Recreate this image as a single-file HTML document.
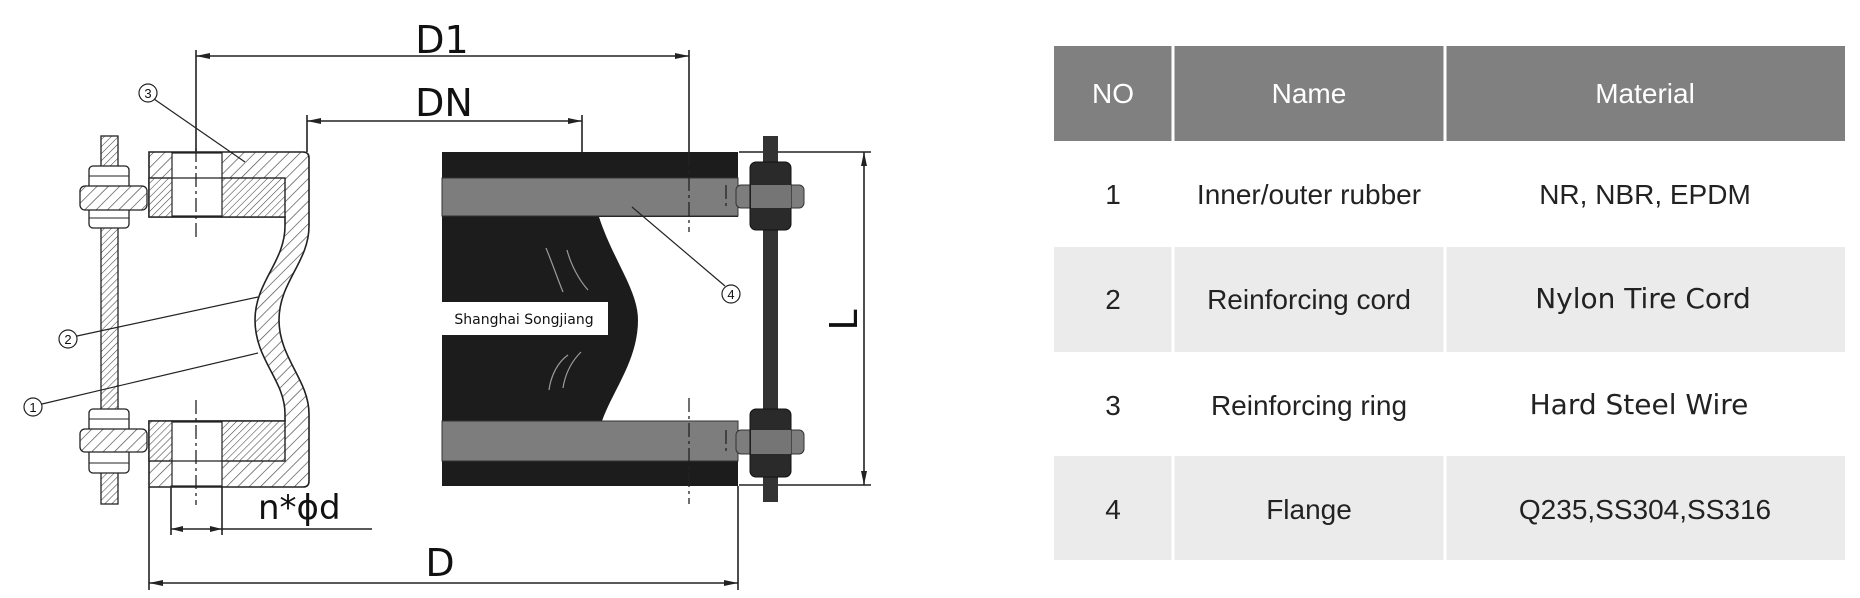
<!DOCTYPE html>
<html><head><meta charset="utf-8"><style>
html,body{margin:0;padding:0;background:#fff;}
svg{display:block;}
</style></head><body>
<svg width="1860" height="598" viewBox="0 0 1860 598" xmlns="http://www.w3.org/2000/svg" font-family="Liberation Sans, sans-serif">
<defs>
<pattern id="h" patternUnits="userSpaceOnUse" width="8" height="8" patternTransform="rotate(45)">
<rect width="8" height="8" fill="#fff"/><line x1="0" y1="0" x2="0" y2="8" stroke="#444" stroke-width="1.3"/></pattern>
<pattern id="h2" patternUnits="userSpaceOnUse" width="5" height="5" patternTransform="rotate(45)">
<rect width="5" height="5" fill="#fff"/><line x1="0" y1="0" x2="0" y2="5" stroke="#444" stroke-width="1.1"/></pattern>
<marker id="a" markerWidth="14" markerHeight="8" refX="14" refY="4" orient="auto" markerUnits="userSpaceOnUse"><path d="M0,1 L14,4 L0,7 Z" fill="#222"/></marker>
<marker id="b" markerWidth="14" markerHeight="8" refX="0" refY="4" orient="auto" markerUnits="userSpaceOnUse"><path d="M14,1 L0,4 L14,7 Z" fill="#222"/></marker>
</defs>

<!-- dimensions -->
<g stroke="#222" stroke-width="1.6" fill="none">
<line x1="196" y1="56" x2="689" y2="56" marker-start="url(#b)" marker-end="url(#a)"/>
<line x1="307" y1="121" x2="582" y2="121" marker-start="url(#b)" marker-end="url(#a)"/>
<line x1="196" y1="50" x2="196" y2="152"/>
<line x1="689" y1="50" x2="689" y2="152"/>
<line x1="307" y1="115" x2="307" y2="152"/>
<line x1="582" y1="115" x2="582" y2="152"/>
<line x1="149" y1="583" x2="738" y2="583" marker-start="url(#b)" marker-end="url(#a)"/>
<line x1="149" y1="487" x2="149" y2="590"/>
<line x1="738" y1="486" x2="738" y2="590"/>
<line x1="864" y1="152" x2="864" y2="485" marker-start="url(#b)" marker-end="url(#a)"/>
<line x1="739" y1="152" x2="871" y2="152"/>
<line x1="739" y1="485" x2="871" y2="485"/>
<line x1="171" y1="529" x2="372" y2="529"/>
<line x1="171" y1="487" x2="171" y2="535"/>
<line x1="222" y1="487" x2="222" y2="535"/>
</g>
<path d="M171,529 l12,-3 v6z M222,529 l-12,-3 v6z" fill="#222"/>
<text x="442" y="53" font-family="DejaVu Sans, sans-serif" font-size="38" text-anchor="middle" fill="#111">D1</text>
<text x="444" y="116" font-family="DejaVu Sans, sans-serif" font-size="38" text-anchor="middle" fill="#111">DN</text>
<text x="440" y="576" font-family="DejaVu Sans, sans-serif" font-size="38" text-anchor="middle" fill="#111">D</text>
<text x="258" y="519" font-family="DejaVu Sans, sans-serif" font-size="34" fill="#111">n*ϕd</text>
<text x="0" y="0" font-family="DejaVu Sans, sans-serif" font-size="38" fill="#111" transform="translate(857,320) rotate(-90)" text-anchor="middle">L</text>

<!-- left flange section -->
<path d="M149,152 H303 Q309,152 309,158 V226 C309,262 279,282 279,320 C279,358 309,380 309,414 V481 Q309,487 303,487 H149 V421 H285 V414 C285,380 255,360 255,320 C255,282 285,262 285,226 V217 H149 Z" fill="url(#h)" stroke="#222" stroke-width="1.6"/>
<rect x="149" y="178" width="136" height="39" fill="url(#h2)" stroke="#222" stroke-width="1.4"/>
<rect x="149" y="421" width="136" height="40" fill="url(#h2)" stroke="#222" stroke-width="1.4"/>
<rect x="172" y="153" width="50" height="63" fill="#fff" stroke="#222" stroke-width="1.2"/>
<rect x="172" y="422" width="50" height="64" fill="#fff" stroke="#222" stroke-width="1.2"/>
<line x1="172" y1="178" x2="222" y2="178" stroke="#222" stroke-width="1.2"/>
<line x1="172" y1="461" x2="222" y2="461" stroke="#222" stroke-width="1.2"/>
<g stroke="#222" stroke-width="1.3" stroke-dasharray="14,4,3,4">
<line x1="196" y1="148" x2="196" y2="240"/>
<line x1="196" y1="400" x2="196" y2="505"/>
</g>

<!-- left bolt -->
<rect x="101" y="136" width="17" height="368" fill="url(#h2)" stroke="#222" stroke-width="1.3"/>
<g fill="#fff" stroke="#222" stroke-width="1.3">
<rect x="89" y="166" width="40" height="62" rx="4"/>
<rect x="89" y="409" width="40" height="64" rx="4"/>
</g>
<g stroke="#222" stroke-width="1" fill="none">
<line x1="89" y1="176" x2="129" y2="176"/><line x1="89" y1="218" x2="129" y2="218"/>
<line x1="89" y1="419" x2="129" y2="419"/><line x1="89" y1="463" x2="129" y2="463"/>
</g>
<rect x="80" y="186" width="67" height="24" rx="5" fill="url(#h)" stroke="#222" stroke-width="1.3"/>
<rect x="80" y="429" width="67" height="23" rx="5" fill="url(#h)" stroke="#222" stroke-width="1.3"/>

<!-- right side rubber -->
<g transform="translate(-7,0)">
<rect x="449" y="152" width="296" height="334" fill="#1c1c1c"/>
<path d="M606,217 C620,260 645,290 645,320 C645,360 620,390 609,421 H745 V217 Z" fill="#fff"/>
<g stroke="#bbb" stroke-width="1.2" fill="none" opacity="0.8">
<path d="M553,248 C560,265 565,280 570,292"/>
<path d="M574,250 C578,265 586,280 595,290"/>
<path d="M556,390 C558,375 565,362 575,355"/>
<path d="M570,388 C572,375 578,362 588,352"/>
</g>
<rect x="449" y="302" width="166" height="33" fill="#fff"/>
<text x="531" y="324" font-family="DejaVu Sans, sans-serif" font-size="14" text-anchor="middle" fill="#111">Shanghai Songjiang</text>
<rect x="449" y="178" width="296" height="38" fill="#7d7d7d" stroke="#333" stroke-width="1"/>
<rect x="449" y="421" width="296" height="40" fill="#7d7d7d" stroke="#333" stroke-width="1"/>
<rect x="743" y="185" width="68" height="23" rx="5" fill="#7d7d7d" stroke="#333" stroke-width="1"/>
<rect x="743" y="430" width="68" height="24" rx="5" fill="#7d7d7d" stroke="#333" stroke-width="1"/>
<rect x="770" y="136" width="15" height="366" fill="#333"/>
<rect x="757" y="162" width="41" height="68" rx="6" fill="#2a2a2a" stroke="#111"/>
<rect x="757" y="409" width="41" height="68" rx="6" fill="#2a2a2a" stroke="#111"/>
<rect x="758" y="185" width="40" height="23" fill="#7d7d7d" opacity="0.9"/>
<rect x="758" y="430" width="40" height="24" fill="#7d7d7d" opacity="0.9"/>
<g stroke="#222" stroke-width="1.3" stroke-dasharray="14,4,3,4">
<line x1="696" y1="152" x2="696" y2="232"/>
<line x1="696" y1="398" x2="696" y2="504"/>
<line x1="733" y1="185" x2="733" y2="208"/>
<line x1="733" y1="430" x2="733" y2="454"/>
</g>
<line x1="639" y1="207" x2="732" y2="286" stroke="#222" stroke-width="1.2"/>
<circle cx="738" cy="294" r="9" fill="none" stroke="#222" stroke-width="1.2"/>
<text x="738" y="299" font-size="13" text-anchor="middle" fill="#111">4</text>
</g>

<!-- labels -->
<g stroke="#222" stroke-width="1.2" fill="none">
<line x1="154" y1="99" x2="245" y2="162"/>
<line x1="77" y1="336" x2="258" y2="297"/>
<line x1="42" y1="404" x2="258" y2="353"/>
<circle cx="148" cy="93" r="9"/>
<circle cx="68" cy="339" r="9"/>
<circle cx="33" cy="407" r="9"/>
</g>
<g font-size="13" text-anchor="middle" fill="#111">
<text x="148" y="98">3</text><text x="68" y="344">2</text><text x="33" y="412">1</text>
</g>

<!-- table -->
<rect x="1054" y="46" width="791" height="95" fill="#808080"/>
<rect x="1054" y="247" width="791" height="105" fill="#ebebeb"/>
<rect x="1054" y="456" width="791" height="104" fill="#ebebeb"/>
<g stroke="#fff" stroke-width="3">
<line x1="1173" y1="46" x2="1173" y2="560"/>
<line x1="1445" y1="46" x2="1445" y2="560"/>
</g>
<g font-size="28" text-anchor="middle" fill="#fff">
<text x="1113" y="103">NO</text><text x="1309" y="103">Name</text><text x="1645" y="103">Material</text>
</g>
<g font-size="28" text-anchor="middle" fill="#222">
<text x="1113" y="204">1</text><text x="1309" y="204">Inner/outer rubber</text><text x="1645" y="204">NR, NBR, EPDM</text>
<text x="1113" y="309">2</text><text x="1309" y="309">Reinforcing cord</text>
<text x="1113" y="415">3</text><text x="1309" y="415">Reinforcing ring</text>
<text x="1113" y="519">4</text><text x="1309" y="519">Flange</text><text x="1645" y="519">Q235,SS304,SS316</text>
</g>
<g font-size="28" text-anchor="middle" fill="#222" font-family="DejaVu Sans, sans-serif">
<text x="1643" y="308">Nylon Tire Cord</text>
<text x="1639" y="414">Hard Steel Wire</text>
</g>
</svg>
</body></html>
